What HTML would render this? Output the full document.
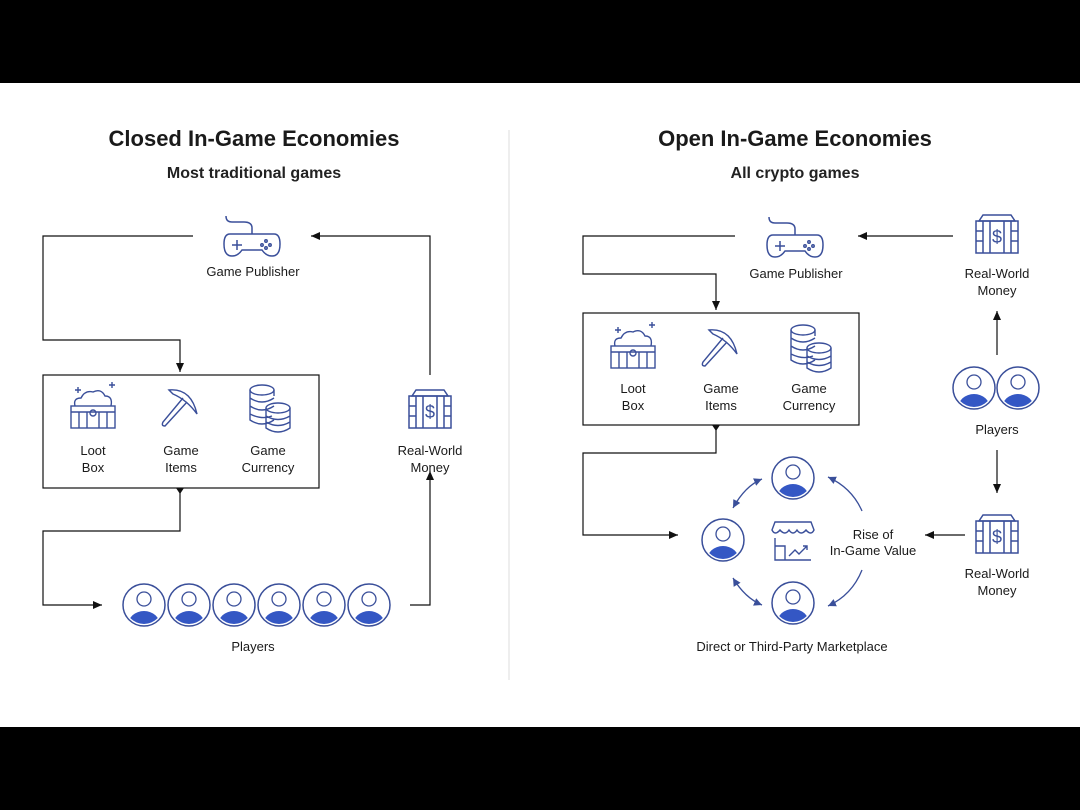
<!DOCTYPE html>
<html><head><meta charset="utf-8"><style>
html,body{margin:0;padding:0;background:#000;}
svg{display:block}
text{font-family:"Liberation Sans",sans-serif;fill:#1a1a1a}
</style></head><body>
<svg width="1080" height="810" viewBox="0 0 1080 810" xmlns="http://www.w3.org/2000/svg">
<defs>
<marker id="ar" markerWidth="10" markerHeight="10" refX="9" refY="5" orient="auto" markerUnits="userSpaceOnUse"><path d="M0,1 L9,5 L0,9 z" fill="#111"/></marker>
<marker id="ab" markerWidth="10" markerHeight="10" refX="8" refY="5" orient="auto-start-reverse" markerUnits="userSpaceOnUse"><path d="M0,1 L8,5 L0,9 z" fill="#3a4f9a"/></marker>
<clipPath id="pc"><circle cx="0" cy="0" r="19"/></clipPath>
<g id="player">
<circle r="21" fill="#fff" stroke="#3a4f9a" stroke-width="1.5"/>
<g clip-path="url(#pc)"><ellipse cx="0" cy="20" rx="16" ry="14" fill="#3457c4"/></g>
<circle cx="0" cy="-6" r="7" fill="#fff" stroke="#3a4f9a" stroke-width="1.3"/>
</g>
<g id="pad" fill="none" stroke="#3a4f9a" stroke-width="1.5">
<path d="M-22,-8 Q-28,-8 -28,2 Q-28,14 -20,14 Q-14,14 -10,8 L10,8 Q14,14 20,14 Q28,14 28,2 Q28,-8 22,-8 Z"/>
<path d="M0,-8 L0,-14 Q0,-20 -8,-20 L-20,-20 Q-26,-20 -26,-26"/>
<path d="M-20,3 h10 M-15,-2 v10"/>
<circle cx="14" cy="-1" r="1.2"/><circle cx="18" cy="3" r="1.2"/><circle cx="10" cy="3" r="1.2"/><circle cx="14" cy="6" r="1.2"/>
</g>
<g id="money" fill="none" stroke="#3a4f9a" stroke-width="1.5">
<path d="M-18,-14 L-14,-20 L14,-20 L18,-14 Z"/>
<rect x="-21" y="-14" width="42" height="32"/>
<path d="M-14,-14 v32 M-7,-14 v32 M7,-14 v32 M14,-14 v32 M-21,-4 h7 M14,-4 h7 M-21,6 h7 M14,6 h7"/>
<text x="0" y="8" text-anchor="middle" font-size="18" style="fill:#3a4f9a;stroke:none">$</text>
</g>
<g id="loot" fill="none" stroke="#3a4f9a" stroke-width="1.4">
<path d="M-18,-4 Q-20,-12 -12,-12 Q-8,-20 0,-18 Q8,-22 12,-14 Q20,-14 18,-4"/>
<rect x="-22" y="-4" width="44" height="22"/>
<path d="M-22,2 h44 M-14,2 v16 M-6,2 v16 M6,2 v16 M14,2 v16"/>
<circle cx="0" cy="3" r="3"/>
<path d="M-18,-20 h6 M-15,-23 v6 M16,-25 h6 M19,-28 v6"/>
</g>
<g id="pick" fill="none" stroke="#3a4f9a" stroke-width="1.4">
<path d="M-12,-20 Q10,-22 16,4 Q6,-10 -8,-16 Z"/>
<path d="M2,-12 L-18,12 Q-20,16 -16,16 L6,-8"/>
</g>
<g id="coins" fill="none" stroke="#3a4f9a" stroke-width="1.4">
<ellipse cx="-6" cy="-20" rx="12" ry="5"/>
<path d="M-18,-20 v30 Q-6,18 6,10 M-18,-12 Q-6,-4 6,-12 M-18,-4 Q-6,4 6,-4 M-18,4 Q-6,10 4,6 M6,-20 v6"/>
<ellipse cx="10" cy="-2" rx="12" ry="5"/>
<path d="M-2,-2 v20 Q10,26 22,18 v-20 M-2,6 Q10,13 22,6 M-2,12 Q10,19 22,12"/>
</g>
<g id="store" fill="none" stroke="#3a4f9a" stroke-width="1.4">
<path d="M-18,-22 h36 l3,8 Q18,-8 13,-14 Q8,-8 4,-14 Q0,-8 -4,-14 Q-8,-8 -13,-14 Q-18,-8 -21,-14 Z"/>
<path d="M-18,-6 v22 h36 M-18,2 h10 v14 M-4,12 l6,-6 4,4 8,-8 M10,2 h4 v4"/>
</g>
</defs>
<rect x="0" y="83" width="1080" height="644" fill="#fff"/>
<line x1="509" y1="130" x2="509" y2="680" stroke="#ddd" stroke-width="1"/>
<text x="254" y="146" text-anchor="middle" font-size="22" font-weight="bold">Closed In-Game Economies</text>
<text x="254" y="178" text-anchor="middle" font-size="16" font-weight="bold" style="fill:#222">Most traditional games</text>
<text x="795" y="146" text-anchor="middle" font-size="22" font-weight="bold">Open In-Game Economies</text>
<text x="795" y="178" text-anchor="middle" font-size="16" font-weight="bold" style="fill:#222">All crypto games</text>

<g font-size="13" text-anchor="middle">
<!-- LEFT -->
<use href="#pad" x="252" y="242"/>
<text x="253" y="276">Game Publisher</text>
<g fill="none" stroke="#111" stroke-width="1.2">
<polyline points="193,236 43,236 43,340 180,340 180,372" marker-end="url(#ar)"/>
<polyline points="180,488 180,531 43,531 43,605 102,605" marker-end="url(#ar)"/>
<polyline points="410,605 430,605 430,471" marker-end="url(#ar)"/>
<polyline points="430,375 430,236 311,236" marker-end="url(#ar)"/>
<rect x="43" y="375" width="276" height="113"/>
</g>
<path d="M176,488 h8 l-4,6z" fill="#111"/>
<use href="#loot" x="93" y="410"/><use href="#pick" x="181" y="410"/><use href="#coins" x="268" y="410"/>
<text x="93" y="455">Loot</text><text x="93" y="472">Box</text>
<text x="181" y="455">Game</text><text x="181" y="472">Items</text>
<text x="268" y="455">Game</text><text x="268" y="472">Currency</text>
<use href="#money" x="430" y="410"/>
<text x="430" y="455">Real-World</text><text x="430" y="472">Money</text>
<use href="#player" x="144" y="605"/><use href="#player" x="189" y="605"/><use href="#player" x="234" y="605"/><use href="#player" x="279" y="605"/><use href="#player" x="324" y="605"/><use href="#player" x="369" y="605"/>
<text x="253" y="651">Players</text>

<!-- RIGHT -->
<use href="#pad" x="795" y="243"/>
<text x="796" y="278">Game Publisher</text>
<g fill="none" stroke="#111" stroke-width="1.2">
<polyline points="735,236 583,236 583,274 716,274 716,310" marker-end="url(#ar)"/>
<polyline points="716,425 716,453 583,453 583,535 678,535" marker-end="url(#ar)"/>
<polyline points="953,236 858,236" marker-end="url(#ar)"/>
<polyline points="997,355 997,311" marker-end="url(#ar)"/>
<polyline points="997,450 997,493" marker-end="url(#ar)"/>
<polyline points="965,535 925,535" marker-end="url(#ar)"/>
<rect x="583" y="313" width="276" height="112"/>
</g>
<path d="M712,425 h8 l-4,6z" fill="#111"/>
<use href="#loot" x="633" y="350"/><use href="#pick" x="721" y="350"/><use href="#coins" x="809" y="350"/>
<text x="633" y="393">Loot</text><text x="633" y="410">Box</text>
<text x="721" y="393">Game</text><text x="721" y="410">Items</text>
<text x="809" y="393">Game</text><text x="809" y="410">Currency</text>
<use href="#money" x="997" y="235"/>
<text x="997" y="278">Real-World</text><text x="997" y="295">Money</text>
<use href="#player" x="974" y="388"/><use href="#player" x="1018" y="388"/>
<text x="997" y="434">Players</text>
<use href="#money" x="997" y="535"/>
<text x="997" y="578">Real-World</text><text x="997" y="595">Money</text>
<use href="#player" x="793" y="478"/><use href="#player" x="723" y="540"/><use href="#player" x="793" y="603"/>
<use href="#store" x="793" y="544"/>
<text x="873" y="539">Rise of</text><text x="873" y="555">In-Game Value</text>
<g fill="none" stroke="#3a4f9a" stroke-width="1.3">
<path d="M733,508 Q745,486 762,479" marker-start="url(#ab)" marker-end="url(#ab)"/>
<path d="M733,578 Q745,598 762,605" marker-start="url(#ab)" marker-end="url(#ab)"/>
<path d="M862,511 Q852,488 828,477" marker-end="url(#ab)"/>
<path d="M862,570 Q852,595 828,606" marker-end="url(#ab)"/>
</g>
<text x="792" y="651">Direct or Third-Party Marketplace</text>
</g>
</svg>
</body></html>
